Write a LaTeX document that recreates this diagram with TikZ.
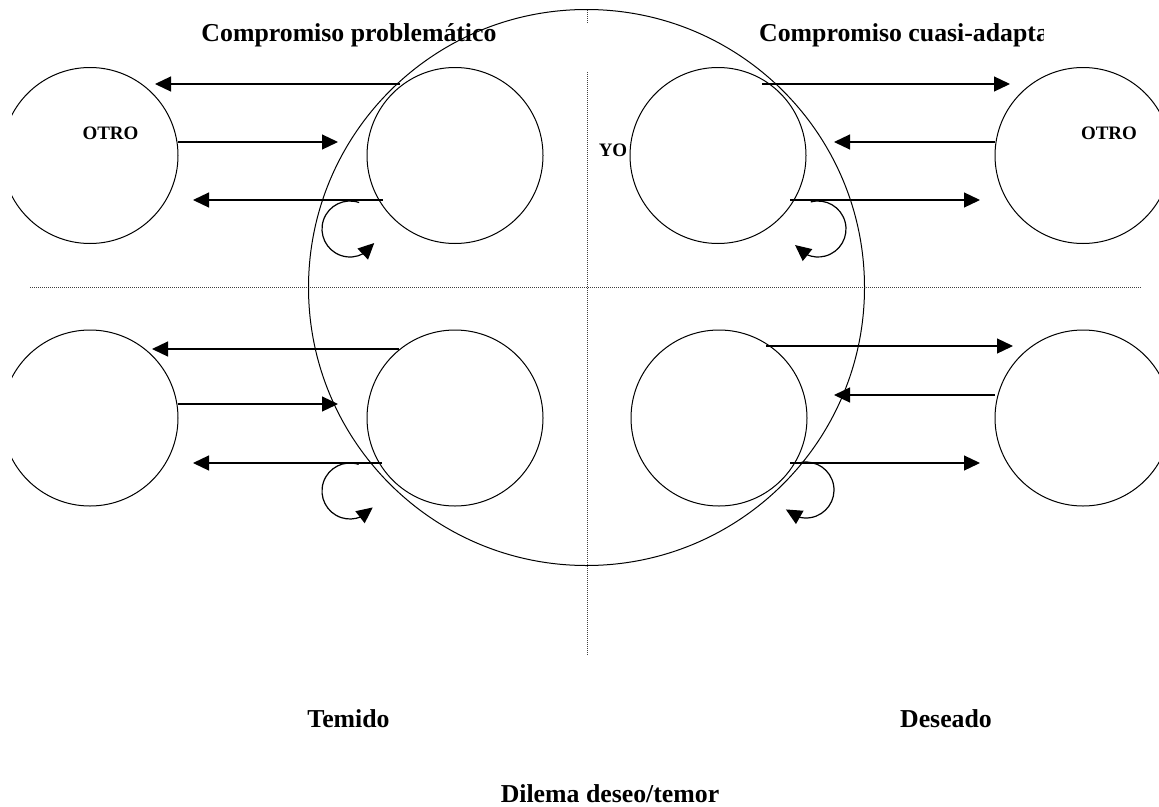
\documentclass[tikz,border=0pt]{standalone}
\usepackage{fontspec}
\setmainfont{Liberation Serif}
\usetikzlibrary{arrows.meta,calc,bending}
\begin{document}
\begin{tikzpicture}[x=1pt,y=-1pt,
  ring/.style={circle,draw,line width=1pt,minimum size=176pt,inner sep=0pt},
  bigring/.style={circle,draw,line width=1pt,minimum size=556pt,inner sep=0pt},
  flow/.style={-{Triangle[length=16pt,width=15pt]},line width=1.2pt},
  guide/.style={line width=0.8pt,dash pattern=on 1pt off 1pt,draw=black!75},
  lbl/.style={font=\bfseries\fontsize{25.8pt}{30pt}\selectfont,inner sep=0pt,anchor=base},
  tag/.style={font=\bfseries\fontsize{19pt}{22pt}\selectfont,inner sep=0pt,anchor=base}]
\useasboundingbox (0,0) rectangle (1159,806);
\fill[white] (0,0) rectangle (1159,806);

% guide lines
\coordinate (vA) at (587,10);  \coordinate (vB) at (587,24);
\coordinate (vC) at (587,72);  \coordinate (vD) at (587,655);
\coordinate (hA) at (30,287);  \coordinate (hB) at (1141,287);
\draw[guide] (vA) -- (vB);
\draw[guide] (vC) -- (vD);
\draw[guide] (hA) -- (hB);

% big circle
\node[bigring] (self) at (586.5,287.5) {};

% small circles
\begin{scope}
\clip (12,0) rectangle (1159,806);
\node[ring] (otroTL) at (90,155.5) {};
\node[ring] (yoTL)   at (455,155.5) {};
\node[ring] (yoTR)   at (718,155.5) {};
\node[ring] (otroTR) at (1083,155.5) {};
\node[ring] (otroBL) at (90,418) {};
\node[ring] (yoBL)   at (455,418) {};
\node[ring] (yoBR)   at (719,418) {};
\node[ring] (otroBR) at (1083,418) {};
\end{scope}

% arrow end points
\coordinate (tl1s) at (400,84);  \coordinate (tl1e) at (155,84);
\coordinate (tl2s) at (178,142); \coordinate (tl2e) at (338,142);
\coordinate (tl3s) at (383,200); \coordinate (tl3e) at (193,200);
\coordinate (tr1s) at (762,84);  \coordinate (tr1e) at (1010,84);
\coordinate (tr2s) at (995,142); \coordinate (tr2e) at (834,142);
\coordinate (tr3s) at (790,200); \coordinate (tr3e) at (980,200);
\coordinate (bl1s) at (399,349); \coordinate (bl1e) at (152,349);
\coordinate (bl2s) at (178,404); \coordinate (bl2e) at (338,404);
\coordinate (bl3s) at (382,463); \coordinate (bl3e) at (193,463);
\coordinate (br1s) at (766,346); \coordinate (br1e) at (1013,346);
\coordinate (br2s) at (995,395); \coordinate (br2e) at (834,395);
\coordinate (br3s) at (790,463); \coordinate (br3e) at (980,463);

\foreach \q in {tl,tr,bl,br}{
  \foreach \k in {1,2,3}{
    \draw[flow] (\q\k s) -- (\q\k e);
  }
}

% self loops
\coordinate (ctl) at (350,229);
\coordinate (ctr) at (818,229);
\coordinate (cbl) at (350,491);
\coordinate (cbr) at (806,490);
\draw[flow] ($(ctl)+(-71:28)$) arc[start angle=-71,end angle=-330,radius=28];
\draw[flow] ($(ctr)+(-105:28)$) arc[start angle=-105,end angle=145,radius=28];
\draw[flow] ($(cbl)+(-72:28)$) arc[start angle=-72,end angle=-324,radius=28];
\draw[flow] ($(cbr)+(-100:28)$) arc[start angle=-100,end angle=136,radius=28];

% texts
\node[lbl] (t1) at (349,41.5) {Compromiso problemático};
\begin{scope}
\clip (0,0) rectangle (1043,806);
\node[lbl,anchor=base west] (t2) at (759,41.5) {Compromiso cuasi-adapta};
\end{scope}
\node[tag] (o1) at (110.5,139) {OTRO};
\node[tag] (o2) at (1109,139) {OTRO};
\node[tag] (yo) at (613,156.7) {YO};
\node[lbl] (tem) at (348.5,727) {Temido};
\node[lbl] (des) at (946,727) {Deseado};
\node[lbl] (dil) at (610,802) {Dilema deseo/temor};
\end{tikzpicture}
\end{document}
